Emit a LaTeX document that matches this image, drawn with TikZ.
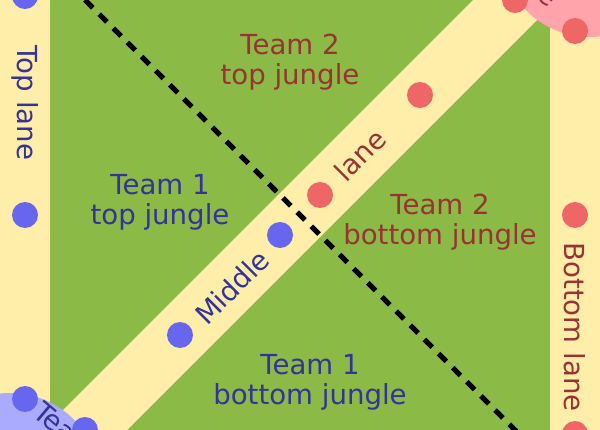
\documentclass[tikz,border=0pt]{standalone}
\usepackage{xcolor}
\usepackage{tikz}
\usepackage{fontspec}
\setmainfont{DejaVu Sans}

\definecolor{grass}{HTML}{8BBB46}
\definecolor{lanecol}{HTML}{FFEEAA}
\definecolor{baseone}{HTML}{AAAAFF}
\definecolor{basetwo}{HTML}{FFA4AA}
\definecolor{dotone}{HTML}{6666EE}
\definecolor{dottwo}{HTML}{EE6666}
\definecolor{textone}{HTML}{333399}
\definecolor{texttwo}{HTML}{993333}

\begin{document}
\begin{tikzpicture}[x=1pt, y=-1pt,
    lbl/.style={font=\fontsize{27.6}{30}\selectfont, align=center, inner sep=0pt},
    one/.style={lbl, text=textone},
    two/.style={lbl, text=texttwo},
    tower/.style={circle, minimum size=26pt, inner sep=0pt},
    tone/.style={tower, fill=dotone},
    ttwo/.style={tower, fill=dottwo}]
    \useasboundingbox (0,0) rectangle (600,430);
    \clip (0,0) rectangle (600,430);

    % ground and lanes
    \fill[grass] (0,0) rectangle (600,430);
    \fill[lanecol] (0,0) rectangle (50,430);
    \fill[lanecol] (550,0) rectangle (600,430);
    \fill[lanecol] (473,0) -- (557,0) -- (127,430) -- (43,430) -- cycle;

    % bases
    \fill[baseone] (10,483) circle (90pt);
    \fill[basetwo] (590,-53) circle (90pt);

    % river
    \coordinate (rivtop) at (85,0);
    \coordinate (rivbot) at (525,440);
    \draw[line width=5pt, dash pattern=on 11pt off 9pt] (rivtop) -- (rivbot);

    % towers
    \node (b1) at (25,-4) [tone] {};
    \node (b2) at (25,215) [tone] {};
    \node (b3) at (25,399) [tone] {};
    \node (b4) at (85,430) [tone] {};
    \node (b5) at (180,335) [tone] {};
    \node (b6) at (280,235) [tone] {};
    \node (r1) at (515,0) [ttwo] {};
    \node (r2) at (575,31) [ttwo] {};
    \node (r3) at (575,215) [ttwo] {};
    \node (r4) at (575,434) [ttwo] {};
    \node (r5) at (320,195) [ttwo] {};
    \node (r6) at (420,95) [ttwo] {};

    % labels
    \node (tj2) at (290,62) [two] {Team 2\\top jungle};
    \node (tj1) at (160,202) [one] {Team 1\\top jungle};
    \node (bj2) at (440,222) [two] {Team 2\\bottom jungle};
    \node (bj1) at (310,382) [one] {Team 1\\bottom jungle};
    \node (mid) at (232,287) [one, rotate=45] {Middle};
    \node (midl) at (360,155) [two, rotate=45] {lane};
    \node (top) at (25,103) [one, rotate=-90] {Top lane};
    \node (bot) at (575,327) [two, rotate=-90] {Bottom lane};
    \node (base1) at (31,415) [one, rotate=-40, anchor=base west] {Team 1 base};
    \node (base2) at (549,9) [two, rotate=-40, anchor=base east] {Team 2 base};
\end{tikzpicture}
\end{document}
